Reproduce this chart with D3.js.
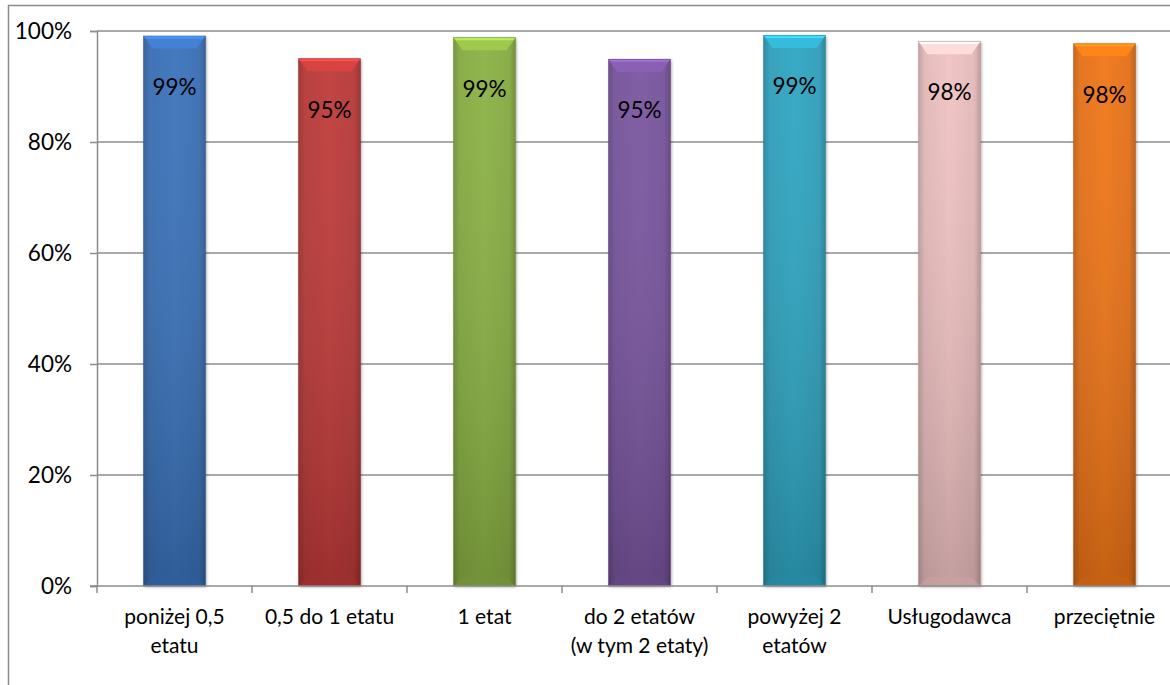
<!DOCTYPE html>
<html><head><meta charset="utf-8">
<script src="https://cdn.jsdelivr.net/npm/d3@7"></script>
<style>
html,body{margin:0;padding:0;background:#fff;}
svg{display:block;font-family:Lato,"Open Sans",sans-serif;}
</style></head>
<body>
<svg id="chart" width="1170" height="685"></svg>
<script>
const categories = ["poniżej 0,5\netatu","0,5 do 1 etatu","1 etat","do 2 etatów\n(w tym 2 etaty)","powyżej 2\netatów","Usługodawca","przeciętnie"];
const values = [0.991, 0.950, 0.988, 0.949, 0.992, 0.981, 0.977];
const valueLabels = ["99%","95%","99%","95%","99%","98%","98%"];
const colors = ["#3a72bb","#bf3a39","#8bb244","#7a55a0","#2fa6c3","#f0c2c2","#f07516"];
const yTicks = [0,0.2,0.4,0.6,0.8,1.0];

const svg = d3.select("#chart");
const mLeft = 97, mTop = 31, mBottom = 586, band = 155;
const mRight = mLeft + band*categories.length;

// outer frame
svg.append("rect").attr("x",8.5).attr("y",5.5).attr("width",1200).attr("height",700)
  .attr("fill","none").attr("stroke","#8c8c8c").attr("stroke-width",1.5);

const x = d3.scaleBand().domain(categories).range([mLeft,mRight]).paddingInner(0.6).paddingOuter(0.3);
const y = d3.scaleLinear().domain([0,1]).range([mBottom,mTop]);

// gridlines
svg.append("g").selectAll("line").data(yTicks.filter(d=>d>0)).join("line")
  .attr("x1",mLeft).attr("x2",mRight).attr("y1",d=>y(d)).attr("y2",d=>y(d))
  .attr("stroke","#8c8c8c").attr("stroke-width",1.5);

// y axis
const yAxis = d3.axisLeft(y).tickValues(yTicks).tickFormat(d3.format(".0%")).tickSize(7).tickPadding(18);
const gy = svg.append("g").attr("transform",`translate(${mLeft},0)`).call(yAxis);
gy.select(".domain").attr("stroke","#8c8c8c").attr("stroke-width",1.5);
gy.selectAll(".tick line").attr("stroke","#8c8c8c").attr("stroke-width",1.5);
gy.selectAll(".tick text").attr("font-size",22.5).attr("fill","#000").attr("font-family","Lato").attr("dy","0.35em");

// defs gradients
const defs = svg.append("defs");
colors.forEach((c,i)=>{
  const g = defs.append("linearGradient").attr("id","g"+i).attr("x1","0").attr("x2","1").attr("y1","0").attr("y2","0");
  const base = d3.color(c);
  g.append("stop").attr("offset","0").attr("stop-color",base.darker(0.6));
  g.append("stop").attr("offset","0.1").attr("stop-color",base.darker(0.15));
  g.append("stop").attr("offset","0.5").attr("stop-color",base);
  g.append("stop").attr("offset","0.9").attr("stop-color",base.darker(0.15));
  g.append("stop").attr("offset","1").attr("stop-color",base.darker(0.7));
  const gv = defs.append("linearGradient").attr("id","v"+i).attr("x1","0").attr("x2","0").attr("y1","0").attr("y2","1");
  gv.append("stop").attr("offset","0").attr("stop-color","#fff").attr("stop-opacity",0.05);
  gv.append("stop").attr("offset","1").attr("stop-color","#000").attr("stop-opacity",0.18);
});
const shadow = defs.append("filter").attr("id","sh").attr("x","-20%").attr("y","-5%").attr("width","140%").attr("height","115%");
shadow.append("feDropShadow").attr("dx",1).attr("dy",1).attr("stdDeviation",1.5).attr("flood-color","#000").attr("flood-opacity",0.35);

const bars = svg.append("g").selectAll("g").data(categories).join("g");
const bev = 9;
bars.each(function(cat,i){
  const g = d3.select(this);
  const x0 = x(cat), w = x.bandwidth(), y0 = y(values[i]), h = mBottom - y0;
  const base = d3.color(colors[i]);
  g.append("rect").attr("x",x0).attr("y",y0).attr("width",w).attr("height",h)
    .attr("fill",`url(#g${i})`).attr("filter","url(#sh)");
  g.append("rect").attr("x",x0).attr("y",y0).attr("width",w).attr("height",h)
    .attr("fill",`url(#v${i})`);
  // top bevel
  g.append("polygon").attr("points",[[x0,y0],[x0+w,y0],[x0+w-bev,y0+bev*1.4],[x0+bev,y0+bev*1.4]].map(p=>p.join(",")).join(" "))
    .attr("fill",base.brighter(0.35));
  g.append("polygon").attr("points",[[x0,y0],[x0+w,y0],[x0+w-2.5,y0+2.5],[x0+2.5,y0+2.5]].map(p=>p.join(",")).join(" "))
    .attr("fill",base.brighter(0.8));
  // bottom bevel
  g.append("polygon").attr("points",[[x0,mBottom],[x0+w,mBottom],[x0+w-bev,mBottom-bev],[x0+bev,mBottom-bev]].map(p=>p.join(",")).join(" "))
    .attr("fill",base.darker(0.5)).attr("opacity",0.6);
  g.append("rect").attr("x",x0).attr("y",y0).attr("width",w).attr("height",h)
    .attr("fill","none").attr("stroke",base.darker(0.8)).attr("stroke-width",0.8).attr("opacity",0.6);
  g.append("text").attr("x",x0+w/2).attr("y",y0+51).attr("text-anchor","middle").attr("dy","0.35em")
    .attr("font-size",22.5).attr("fill","#000").text(valueLabels[i]);
});

// x axis
const gx = svg.append("g").attr("transform",`translate(0,${mBottom})`);
gx.append("line").attr("x1",mLeft-7).attr("x2",mRight).attr("y1",0).attr("y2",0).attr("stroke","#8c8c8c").attr("stroke-width",1.5);
gx.selectAll("line.t").data(d3.range(categories.length+1)).join("line").attr("class","t")
  .attr("x1",i=>mLeft+i*band).attr("x2",i=>mLeft+i*band).attr("y1",0).attr("y2",7)
  .attr("stroke","#8c8c8c").attr("stroke-width",1.5);
const lbl = gx.selectAll("text").data(categories).join("text")
  .attr("x",d=>x(d)+x.bandwidth()/2).attr("y",31).attr("text-anchor","middle")
  .attr("font-size",21).attr("fill","#000");
lbl.each(function(d){
  const t = d3.select(this);
  d.split("\n").forEach((line,k)=>{
    t.append("tspan").attr("x",x(d)+x.bandwidth()/2).attr("dy",k===0?"0.35em":29).text(line);
  });
});
</script>
</body></html>
